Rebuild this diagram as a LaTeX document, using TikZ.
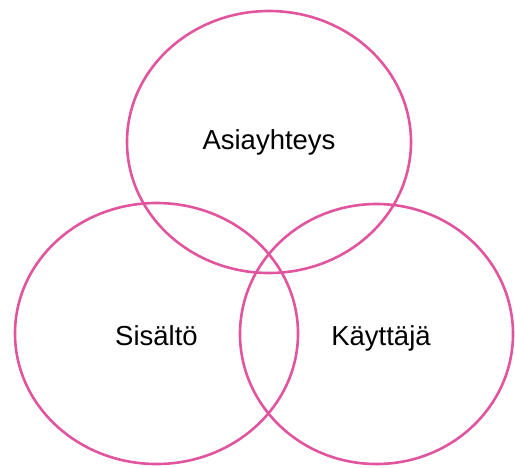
\documentclass[tikz,border=0pt]{standalone}
\usepackage{fontspec}
\setmainfont{Liberation Sans}
\usepackage{tikz}
\usetikzlibrary{shapes.geometric}
\definecolor{vennpink}{RGB}{224,85,158}

\begin{document}
\begin{tikzpicture}[
    x=1pt, y=-1pt,
    circ/.style={ellipse, draw=vennpink, line width=2.6pt,
                 inner sep=0pt, outer sep=0pt},
    lbl/.style={anchor=base, inner sep=0pt,
                font=\fontsize{27.5}{32}\selectfont},
]
  \useasboundingbox (0,0) rectangle (515,467);

  % the three sets
  \node[circ, minimum width=284pt, minimum height=262pt]
    (top) at (269,142) {};
  \node[circ, minimum width=283pt, minimum height=261pt]
    (left) at (156.5,333.5) {};
  \node[circ, minimum width=273pt, minimum height=260pt]
    (right) at (376.5,334) {};

  % labels
  \node[lbl] (asia) at (269,149.5) {Asiayhteys};
  \node[lbl] (sis)  at (156.5,345) {Sisältö};
  \node[lbl] (kay)  at (381,345)   {Käyttäjä};

\end{tikzpicture}
\end{document}
